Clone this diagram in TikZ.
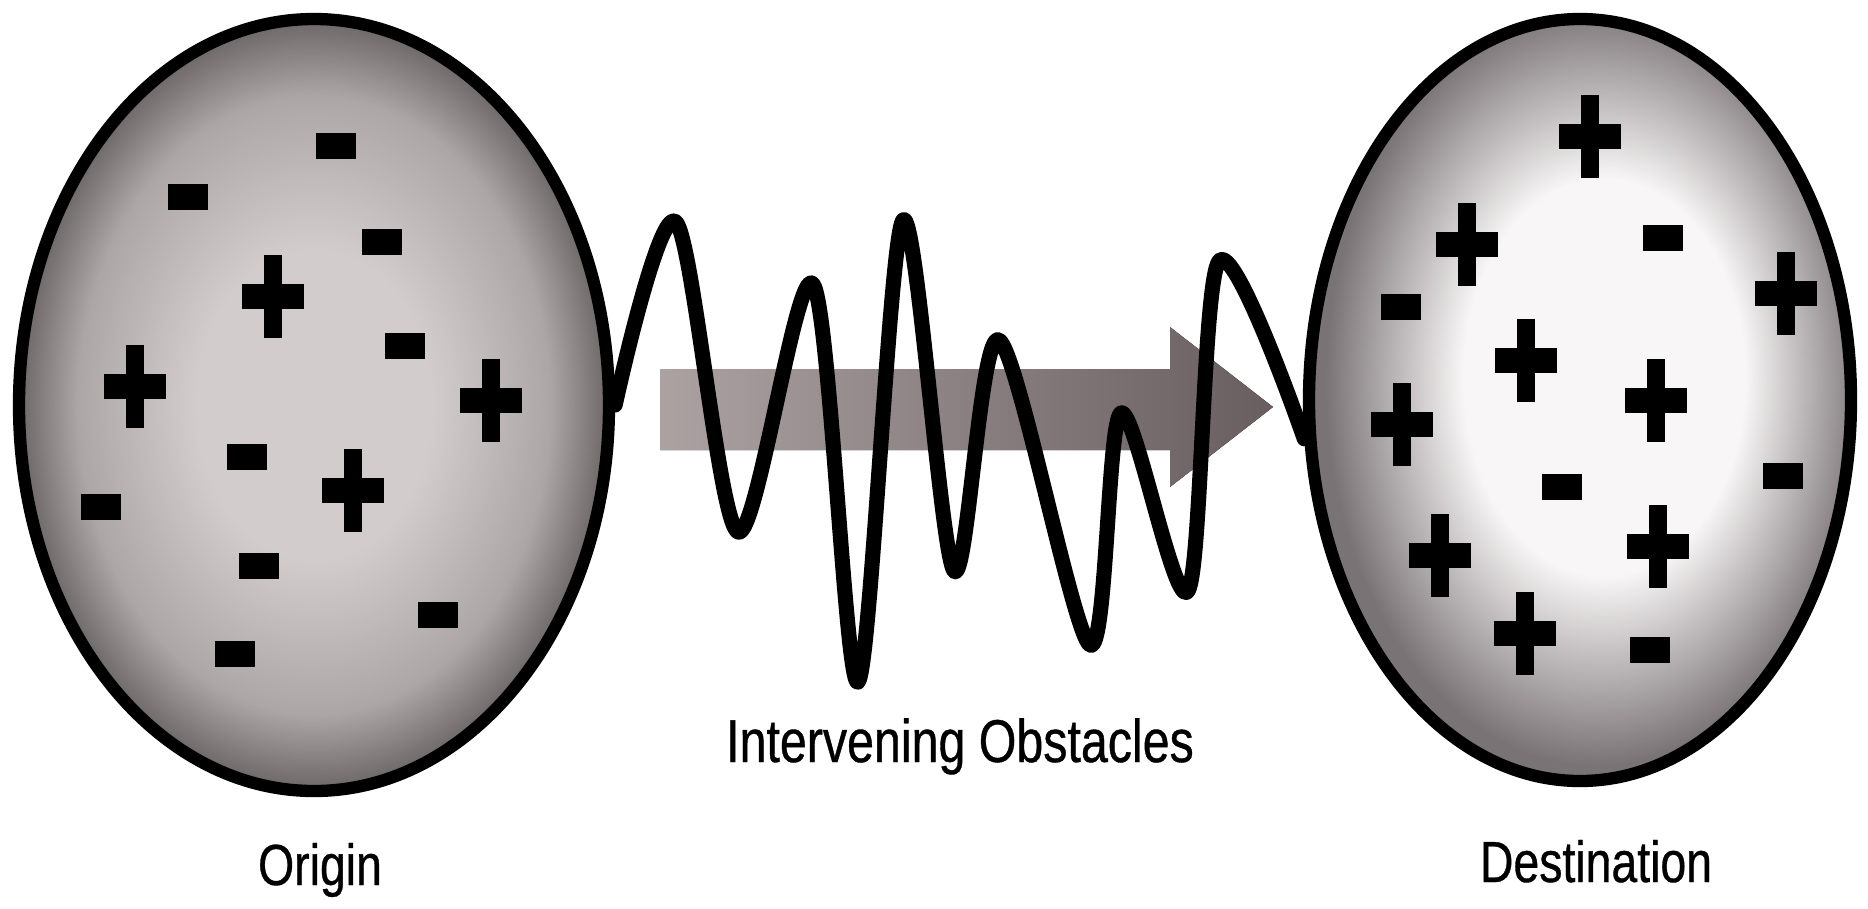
\documentclass[tikz,border=0pt]{standalone}
\usepackage{fontspec}
\setmainfont{Liberation Sans}[FakeStretch=0.8, FakeBold=0.6]
\usetikzlibrary{shapes.geometric, positioning}
\definecolor{origincore}{RGB}{210,204,204}
\definecolor{originmid}{RGB}{172,166,166}
\definecolor{originrim}{RGB}{108,102,102}
\definecolor{destcore}{RGB}{248,246,246}
\definecolor{destrim}{RGB}{122,115,118}
\definecolor{flowlight}{RGB}{172,162,162}
\definecolor{flowdark}{RGB}{104,94,96}
\pgfdeclareradialshading{originshade}{\pgfpoint{0bp}{0bp}}{color(0bp)=(origincore); color(10bp)=(origincore); color(20bp)=(originmid); color(25bp)=(originrim); color(50bp)=(originrim)}
\pgfdeclareradialshading{destshade}{\pgfpoint{3bp}{2bp}}{color(0bp)=(destcore); color(13bp)=(destcore); color(25bp)=(destrim); color(50bp)=(destrim)}

\begin{document}
\begin{tikzpicture}[
    blob/.style={ellipse, draw=black, line width=3.5pt, shade, inner sep=0pt},
    wave/.style={line width=4.3pt, line cap=round, line join=round},
    caption/.style={anchor=base, inner sep=0pt, font=\fontsize{16.5}{19}\selectfont},
    pos/.pic={\fill (-0.31,-0.125) rectangle (0.31,0.125);
              \fill (-0.09,-0.415) rectangle (0.09,0.415);},
    neg/.pic={\fill (-0.20,-0.13) rectangle (0.20,0.13);}
]
\useasboundingbox[fill=white] (0,0) rectangle (18.68,9.08);

\node[blob, shading=originshade, minimum width=5.9cm, minimum height=7.72cm] (orig) at (3.14,5.03) {};
\node[blob, shading=destshade, minimum width=5.42cm, minimum height=7.62cm] (dest) at (15.80,5.08) {};

% charges at the origin
\pic at (3.36,7.62) {neg};
\pic at (1.88,7.11) {neg};
\pic at (3.82,6.66) {neg};
\pic at (4.05,5.62) {neg};
\pic at (2.47,4.51) {neg};
\pic at (1.01,4.01) {neg};
\pic at (2.59,3.42) {neg};
\pic at (4.38,2.93) {neg};
\pic at (2.35,2.54) {neg};
\pic at (2.73,6.12) {pos};
\pic at (1.35,5.22) {pos};
\pic at (4.91,5.08) {pos};
\pic at (3.53,4.18) {pos};

% charges at the destination
\pic at (15.90,7.72) {pos};
\pic at (14.67,6.64) {pos};
\pic at (17.86,6.15) {pos};
\pic at (15.26,5.48) {pos};
\pic at (16.56,5.08) {pos};
\pic at (14.02,4.84) {pos};
\pic at (14.40,3.53) {pos};
\pic at (16.58,3.62) {pos};
\pic at (15.25,2.75) {pos};
\pic at (16.63,6.70) {neg};
\pic at (14.01,6.01) {neg};
\pic at (15.62,4.21) {neg};
\pic at (17.83,4.32) {neg};
\pic at (16.50,2.58) {neg};

% flow arrow
\fill[left color=flowlight, right color=flowdark]
    (6.60,5.39) -- (11.70,5.39) -- (11.70,5.81) -- (12.73,5.01)
    -- (11.70,4.21) -- (11.70,4.58) -- (6.60,4.58) -- cycle;

% noisy channel
\draw[wave] plot[smooth, tension=0.5] coordinates {(orig.east)
    (6.76,6.86) (7.38,3.76) (8.13,6.24) (8.58,2.26) (9.03,6.88)
    (9.54,3.37) (9.99,5.68) (10.90,2.63) (11.21,4.95) (11.88,3.17)
    (12.19,6.47) (dest.188)};

\node[caption, font=\fontsize{17.2}{20}\selectfont] (obst) at (9.60,1.46) {Intervening Obstacles};
\node[caption] (origlabel) at (3.20,0.23) {Origin};
\node[caption] (destlabel) at (15.96,0.26) {Destination};

\end{tikzpicture}
\end{document}
